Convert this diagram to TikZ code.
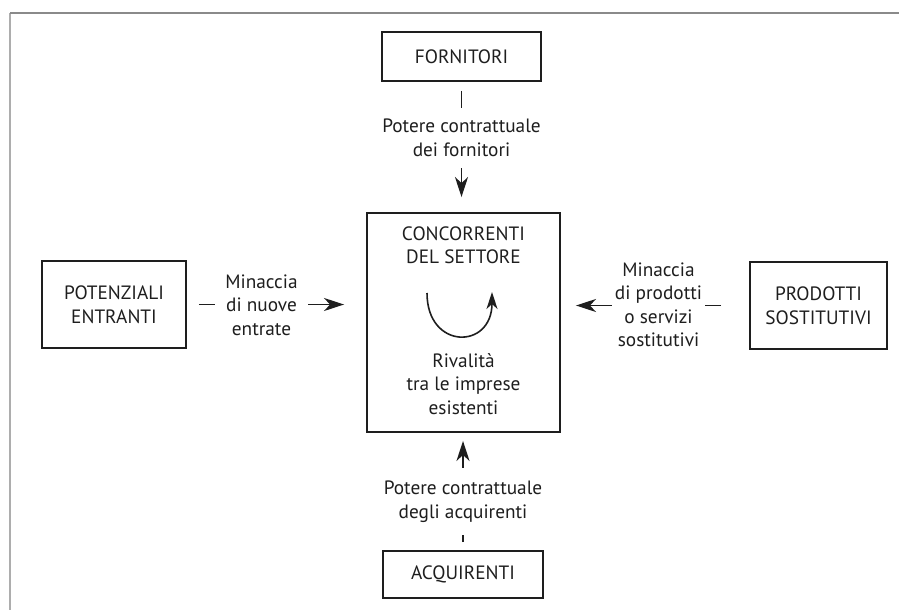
\documentclass[tikz,border=0pt]{standalone}
\usepackage{fontspec}
\setmainfont{PT Sans}
\usetikzlibrary{arrows.meta,backgrounds}
\definecolor{ink}{HTML}{1E1E1E}
\definecolor{rule}{HTML}{8A8A8A}
\begin{document}
\begin{tikzpicture}
  [x=1pt,y=-1pt,
   every node/.style={font=\fontsize{19.3}{23.5}\selectfont,text=ink,align=center},
   box/.style={draw=ink,line width=1.9pt,inner sep=0pt},
   lbl/.style={fill=white,inner sep=0pt},
   force/.style={draw=ink,line width=1.9pt,-{Stealth[length=20pt,width=13pt,inset=6pt]}}]
  \useasboundingbox (0,0) rectangle (899,610);
  \draw[rule!70,line width=2pt] (10,610) -- (10,13);
  \draw[rule,line width=1.4pt] (10,13) -- (899,13);

  % the five forces
  \node (forn)[box,minimum width=159pt,minimum height=49pt] at (461.5,56.5) {FORNITORI};
  \node (conc)[box,minimum width=193pt,minimum height=219pt] at (463.5,322.5) {};
  \node (pot) [box,minimum width=144pt,minimum height=87pt] at (114,304.5) {POTENZIALI\\ENTRANTI};
  \node (prod)[box,minimum width=137pt,minimum height=87pt] at (818.5,305.5) {PRODOTTI\\SOSTITUTIVI};
  \node (acq) [box,minimum width=160pt,minimum height=47pt] at (463,574.5) {ACQUIRENTI};

  \node (concT) at (463.5,245) {CONCORRENTI\\DEL SETTORE};
  \node (rival) at (463.5,384) {Rivalità\\tra le imprese\\esistenti};
  \draw[force,line width=1.6pt,-{Stealth[length=17pt,width=11pt,inset=5pt]}]
    (427,293) .. controls (427,350) and (492,350) .. (492,292);

  % labels on the connectors
  \node (lblF)[lbl,minimum height=60pt] at (461.5,138) {Potere contrattuale\\dei fornitori};
  \node (lblA)[lbl,minimum height=67pt] at (463,501.5) {Potere contrattuale\\degli acquirenti};
  \node (lblP)[lbl,minimum width=93pt] at (261.5,305) {Minaccia\\di nuove\\entrate};
  \node (lblS)[lbl,minimum width=93pt] at (658.5,305) {Minaccia\\di prodotti\\o servizi\\sostitutivi};

  \begin{scope}[on background layer]
    \foreach \from/\to/\pre/\post in {forn.south/conc.north/9/15,acq.north/conc.south/8/8}
      \draw[force,shorten <=\pre pt,shorten >=\post pt] (\from) -- (\from |- \to);
    \foreach \from/\to/\pre/\post in {pot.east/conc.west/12/22,prod.west/conc.east/28/15}
      \draw[force,shorten <=\pre pt,shorten >=\post pt] (\from) -- (\from -| \to);
  \end{scope}
\end{tikzpicture}
\end{document}
